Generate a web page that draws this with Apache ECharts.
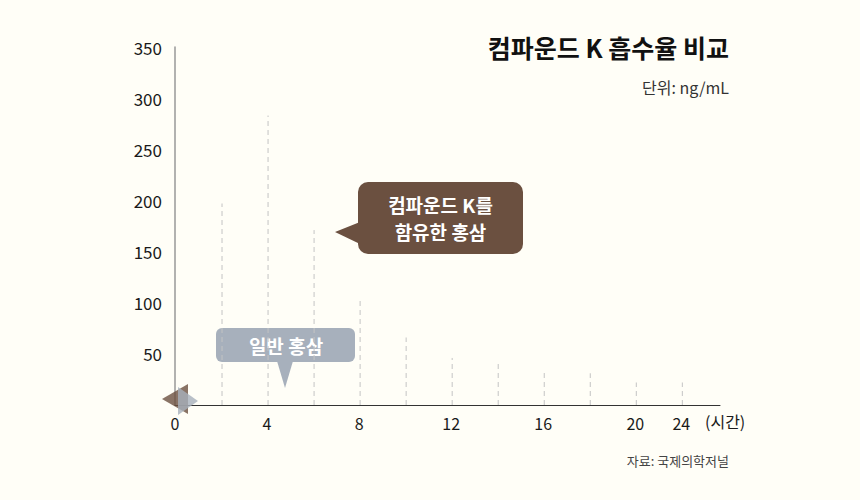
<!DOCTYPE html>
<html><head><meta charset="utf-8">
<script src="https://cdn.jsdelivr.net/npm/echarts@6/dist/echarts.min.js"></script>
<style>html,body{margin:0;padding:0;background:#fffef7}#c{width:860px;height:500px}</style>
</head><body><div id="c"></div>
<script>
const hours = ['0','2','4','6','8','10','12','14','16','18','20','24'];
const dropValues = [0,197,283,171,105,66,46,41,34,31,22,22];
const shownHourLabels = ['0','4','8','12','16','20','24'];
const startPoint = [[0,0]];
const titleText = '컴파운드 K 흡수율 비교';
const unitText = '단위: ng/mL';
const sourceText = '자료: 국제의학저널';
const axisNameText = '(시간)';
const calloutK = '컴파운드 K를\n함유한 홍삼';
const calloutPlain = '일반 홍삼';

const FONT = "'Noto Sans CJK KR','Noto Sans',sans-serif";
const BROWN = '#6b5040';
const GREY = '#a7b0bc';

const chart = echarts.init(document.getElementById('c'), null, {renderer:'svg'});
chart.setOption({
  backgroundColor:'#fffef7',
  animation:false,
  grid:{left:175,right:140,top:47,bottom:95},
  xAxis:{
    type:'value',min:0,max:11.84,interval:1,
    axisLine:{show:true,lineStyle:{color:'#333',width:1}},
    axisTick:{show:false},splitLine:{show:false},
    axisLabel:{
      margin:10,color:'#1a1a1a',fontSize:16,fontFamily:FONT,
      showMaxLabel:false,
      formatter:v=>{
        if(!Number.isInteger(v)) return '';
        const h = hours[v];
        return shownHourLabels.includes(h) ? h : '';
      }
    }
  },
  yAxis:{
    type:'value',min:0,max:350,interval:50,
    axisLine:{show:true,lineStyle:{color:'#999',width:1.5}},
    axisTick:{show:false},splitLine:{show:false},
    axisLabel:{margin:13,color:'#1a1a1a',fontSize:17,fontFamily:FONT,formatter:v=>v===0?'':String(v)}
  },
  series:[
    {
      type:'custom',
      data:hours.map((h,i)=>[i,dropValues[i]]).filter(d=>d[1]>0),
      renderItem:(params,api)=>{
        const p0 = api.coord([api.value(0),0]);
        const p1 = api.coord([api.value(0),api.value(1)]);
        return {type:'line',shape:{x1:p0[0]+1,y1:p0[1],x2:p1[0]+1,y2:p1[1]},
          style:{stroke:'#c4c4c4',lineWidth:1,lineDash:[5,4]}};
      },
      z:1
    },
    {
      type:'scatter',data:startPoint,symbol:'triangle',symbolRotate:90,
      symbolSize:[30,26],symbolOffset:[0,-6],itemStyle:{color:BROWN},z:3
    },
    {
      type:'scatter',data:startPoint,symbol:'triangle',symbolRotate:-90,
      symbolSize:[28,20],symbolOffset:[13,-4],itemStyle:{color:GREY},z:4
    }
  ],
  graphic:[
    {type:'text',right:131,top:34,style:{text:titleText,font:`bold 25px ${FONT}`,fill:'#111',textAlign:'right'}},
    {type:'text',right:131,top:79,style:{text:unitText,font:`16px ${FONT}`,fill:'#333',textAlign:'right'}},
    {type:'text',right:131,top:454,style:{text:sourceText,font:`13px ${FONT}`,fill:'#444',textAlign:'right'}},
    {type:'text',left:705,top:413,style:{text:axisNameText,font:`16px ${FONT}`,fill:'#1a1a1a'}},
    {type:'group',left:335,top:182,children:[
      {type:'rect',shape:{x:23,y:0,width:165,height:72,r:10},style:{fill:BROWN}},
      {type:'polygon',shape:{points:[[0,50],[25,40],[25,62]]},style:{fill:BROWN}},
      {type:'text',style:{x:105.5,y:36,text:calloutK,font:`bold 19px ${FONT}`,fill:'#fff',textAlign:'center',textVerticalAlign:'middle',lineHeight:27}}
    ]},
    {type:'group',left:216,top:328,children:[
      {type:'rect',shape:{x:0,y:0,width:139,height:34,r:6},style:{fill:GREY}},
      {type:'polygon',shape:{points:[[61,33],[77,33],[69,60]]},style:{fill:GREY}},
      {type:'text',style:{x:70,y:17,text:calloutPlain,font:`bold 19px ${FONT}`,fill:'#fff',textAlign:'center',textVerticalAlign:'middle'}}
    ]}
  ]
});
</script></body></html>
